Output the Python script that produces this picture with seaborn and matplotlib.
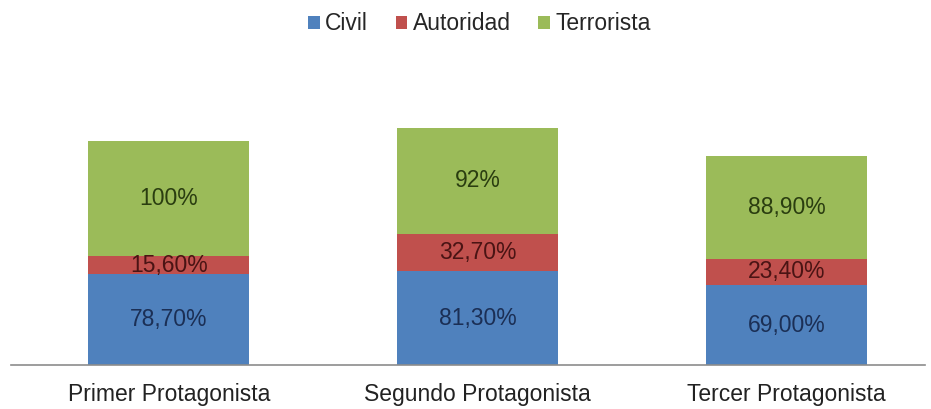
import numpy as np
import pandas as pd
import seaborn as sns
import matplotlib.pyplot as plt
from matplotlib.patches import Patch

categories = ['Primer Protagonista', 'Segundo Protagonista', 'Tercer Protagonista']
civil      = [78.7, 81.3, 69.0]
autoridad  = [15.6, 32.7, 23.4]
terrorista = [100.0, 92.0, 88.9]
civil_lbl      = ['78,70%', '81,30%', '69,00%']
autoridad_lbl  = ['15,60%', '32,70%', '23,40%']
terrorista_lbl = ['100%', '92%', '88,90%']

series = ['Civil', 'Autoridad', 'Terrorista']
colors = ['#4F81BD', '#C0504D', '#9BBB59']
text_colors = ['#1b2f55', '#4a1414', '#2a3d10']

sns.set_style('white')
plt.rcParams['font.family'] = ['Liberation Sans', 'DejaVu Sans']

fig, ax = plt.subplots(figsize=(9.31, 4.09), dpi=100)
fig.subplots_adjust(left=0.012, right=0.994, bottom=0.108, top=0.71)

values = [civil, autoridad, terrorista]
labels = [civil_lbl, autoridad_lbl, terrorista_lbl]
bottom = np.zeros(len(categories))
for name, vals, lbls, c, tc in zip(series, values, labels, colors, text_colors):
    df = pd.DataFrame({'cat': categories, 'val': vals})
    sns.barplot(data=df, x='cat', y='val', color=c, width=0.52, bottom=bottom,
                ax=ax, saturation=1, linewidth=0)
    for i, (v, l) in enumerate(zip(vals, lbls)):
        ax.text(i, bottom[i] + v / 2, l, ha='center', va='center', fontsize=16.5, color=tc)
    bottom = bottom + np.array(vals)

ax.set_xlim(-0.51, 2.45)
ax.set_ylim(0, 214)
ax.set_xlabel('')
ax.set_ylabel('')
ax.set_yticks([])
ax.tick_params(axis='x', length=0, pad=13, labelsize=16.5, colors='#222222')
for s in ['top', 'left', 'right']:
    ax.spines[s].set_visible(False)
ax.spines['bottom'].set_color('#8c8c8c')
ax.spines['bottom'].set_linewidth(1.2)

handles = [Patch(facecolor=c, edgecolor='none', label=n) for n, c in zip(series, colors)]
fig.legend(handles=handles, loc='upper center', bbox_to_anchor=(0.515, 1.02), ncol=3,
           frameon=False, fontsize=16.5, handlelength=0.5, handleheight=0.5,
           handletextpad=0.25, columnspacing=1.2)

fig.savefig('out.png', dpi=100)
